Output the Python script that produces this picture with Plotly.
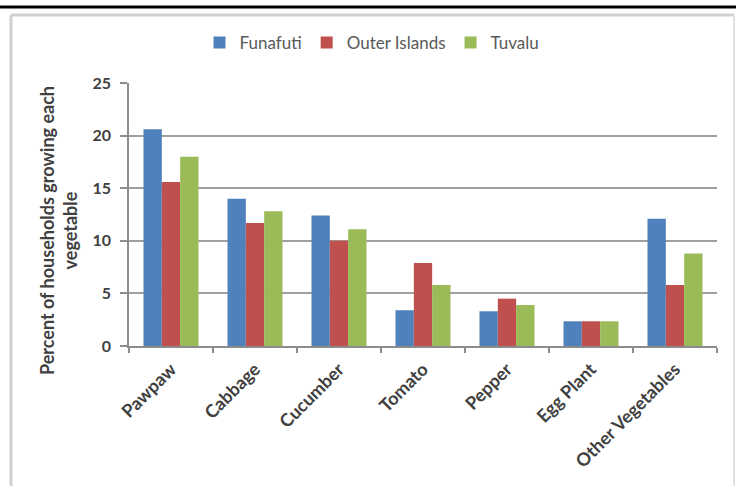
import plotly.graph_objects as go

# Share of households growing each vegetable (%)
vegetables = ["Pawpaw", "Cabbage", "Cucumber", "Tomato", "Pepper", "Egg Plant", "Other Vegetables"]
funafuti = [20.6, 14.0, 12.4, 3.4, 3.3, 2.35, 12.1]
outer_islands = [15.6, 11.7, 10.0, 7.9, 4.5, 2.35, 5.8]
tuvalu = [18.0, 12.8, 11.1, 5.8, 3.9, 2.35, 8.8]
y_ticks = [0, 5, 10, 15, 20, 25]

series = [
    ("Funafuti", funafuti, "#4F81BD"),
    ("Outer Islands", outer_islands, "#C0504D"),
    ("Tuvalu", tuvalu, "#9BBB59"),
]

W, H = 736, 486
L, R, T, B = 129, 19, 83, 140
PW, PH = W - L - R, H - T - B


def px_x(x):
    return (x - L) / PW


def px_y(y):
    return (H - B - y) / PH


fig = go.Figure()
for name, vals, color in series:
    fig.add_trace(go.Bar(
        name=name, x=vegetables, y=vals,
        marker=dict(color=color, line=dict(width=0)),
    ))

FONT = "Lato, 'Open Sans', sans-serif"
TXT = "#404040"

fig.update_layout(
    width=W, height=H,
    margin=dict(l=L, r=R, t=T, b=B, pad=0),
    paper_bgcolor="white", plot_bgcolor="white",
    barmode="group", bargap=0.345, bargroupgap=0,
    font=dict(family=FONT, color=TXT),
    showlegend=True,
    legend=dict(
        orientation="h", x=px_x(372), xanchor="center",
        y=px_y(43), yanchor="middle",
        font=dict(family=FONT, size=17, color="#595959"),
        itemwidth=30, bgcolor="rgba(0,0,0,0)",
    ),
    xaxis=dict(
        type="category", tickangle=-45,
        tickfont=dict(family=FONT, size=18, color=TXT, weight="bold"),
        showline=True, linecolor="#8c8c8c", linewidth=1.5,
        ticks="outside", ticklen=5, tickcolor="#8c8c8c", tickwidth=1.5,
        tickson="boundaries", showgrid=False, zeroline=False,
        ticklabelstandoff=4,
    ),
    yaxis=dict(
        range=[0, 25], tickvals=y_ticks,
        tickfont=dict(family=FONT, size=16, color=TXT, weight="bold"),
        showline=True, linecolor="#8c8c8c", linewidth=1.5,
        ticks="outside", ticklen=7, tickcolor="#8c8c8c", tickwidth=1.5,
        showgrid=True, gridcolor="#a0a0a0", gridwidth=1.5,
        zeroline=False, ticklabelstandoff=6,
    ),
    annotations=[dict(
        text="Percent of households growing each<br>vegetable",
        xref="paper", yref="paper", x=px_x(59), y=px_y(231),
        xanchor="center", yanchor="middle", textangle=-90, showarrow=False,
        font=dict(family=FONT, size=18, color=TXT, weight="bold"),
    )],
    shapes=[
        # outer frame of the chart box
        dict(type="line", xref="paper", yref="paper",
             x0=px_x(11), x1=px_x(11), y0=px_y(15), y1=px_y(490),
             line=dict(color="#d0d0d0", width=3)),
        dict(type="line", xref="paper", yref="paper",
             x0=px_x(11), x1=px_x(734), y0=px_y(15), y1=px_y(15),
             line=dict(color="#d0d0d0", width=3)),
        dict(type="line", xref="paper", yref="paper",
             x0=px_x(734), x1=px_x(734), y0=px_y(15), y1=px_y(490),
             line=dict(color="#e0e0e0", width=2)),
        # black rule across the top of the page
        dict(type="line", xref="paper", yref="paper",
             x0=px_x(-5), x1=px_x(740), y0=px_y(7), y1=px_y(7),
             line=dict(color="black", width=3)),
    ],
)

fig.write_html("out.html")
